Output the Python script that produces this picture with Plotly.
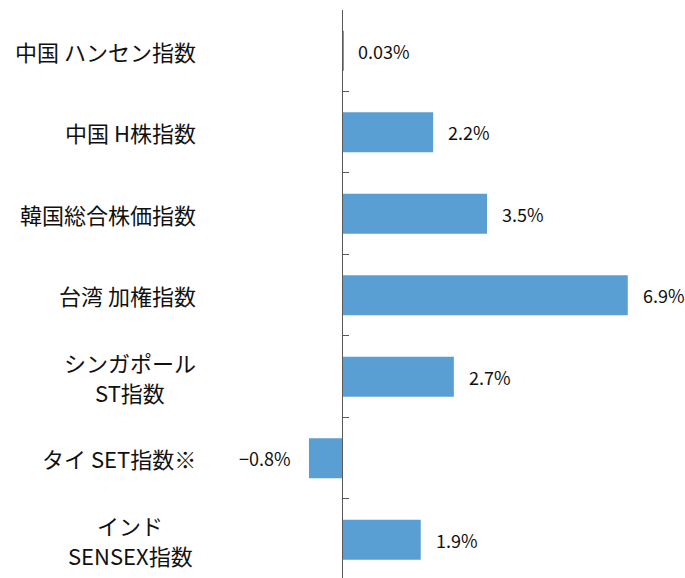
import plotly.graph_objects as go

categories = ["中国 ハンセン指数", "中国 H株指数", "韓国総合株価指数", "台湾 加権指数",
              "シンガポール<br>ST指数", "タイ SET指数※", "インド<br>SENSEX指数"]
values = [0.03, 2.2, 3.5, 6.9, 2.7, -0.8, 1.9]

FONT = "Noto Sans CJK JP, sans-serif"
BAR_COLOR = "#5A9FD4"

fig = go.Figure()
fig.add_trace(go.Bar(
    x=values, y=categories, orientation="h",
    marker=dict(color=BAR_COLOR, line=dict(width=0)),
    hoverinfo="skip",
))

def fmt(v):
    s = f"{v:g}%"
    return s.replace("-", "\u2212")

LABEL_RIGHT_SHIFT = -12   # px from plot-area left edge
MULTI_CENTER_SHIFT = -80  # px from plot-area left edge (center of 2-line labels)
LINE_GAP = 15

annotations = []
for c, v in zip(categories, values):
    annotations.append(dict(
        x=v, y=c, xref="x", yref="y", text=fmt(v), showarrow=False,
        xanchor="left" if v >= 0 else "right", xshift=13 if v >= 0 else -16,
        font=dict(family=FONT, size=18, color="#111111"),
    ))
    lines = c.split("<br>")
    if len(lines) == 1:
        annotations.append(dict(
            x=0, y=c, xref="paper", yref="y", text=c, showarrow=False,
            xanchor="right", xshift=LABEL_RIGHT_SHIFT,
            font=dict(family=FONT, size=22, color="#111111"),
        ))
    else:
        for i, ln in enumerate(lines):
            annotations.append(dict(
                x=0, y=c, xref="paper", yref="y", text=ln, showarrow=False,
                xanchor="center", xshift=MULTI_CENTER_SHIFT,
                yshift=LINE_GAP if i == 0 else -LINE_GAP,
                font=dict(family=FONT, size=22, color="#111111"),
            ))

x_range = [-3.19, 7.92]
fig.update_layout(
    width=685, height=578,
    margin=dict(l=210, r=15, t=10, b=0),
    paper_bgcolor="white", plot_bgcolor="white",
    showlegend=False, bargap=0.51,
    annotations=annotations,
    xaxis=dict(range=x_range, visible=False, showgrid=False, zeroline=False),
    yaxis=dict(
        autorange=False, range=[6.47, -0.5], type="category",
        anchor="free", position=(0 - x_range[0]) / (x_range[1] - x_range[0]),
        showline=True, linecolor="#595959", linewidth=1,
        ticks="inside", tickson="boundaries", ticklen=6, tickcolor="#595959",
        showticklabels=False, showgrid=False, zeroline=False,
    ),
)

fig.write_html("out.html")
